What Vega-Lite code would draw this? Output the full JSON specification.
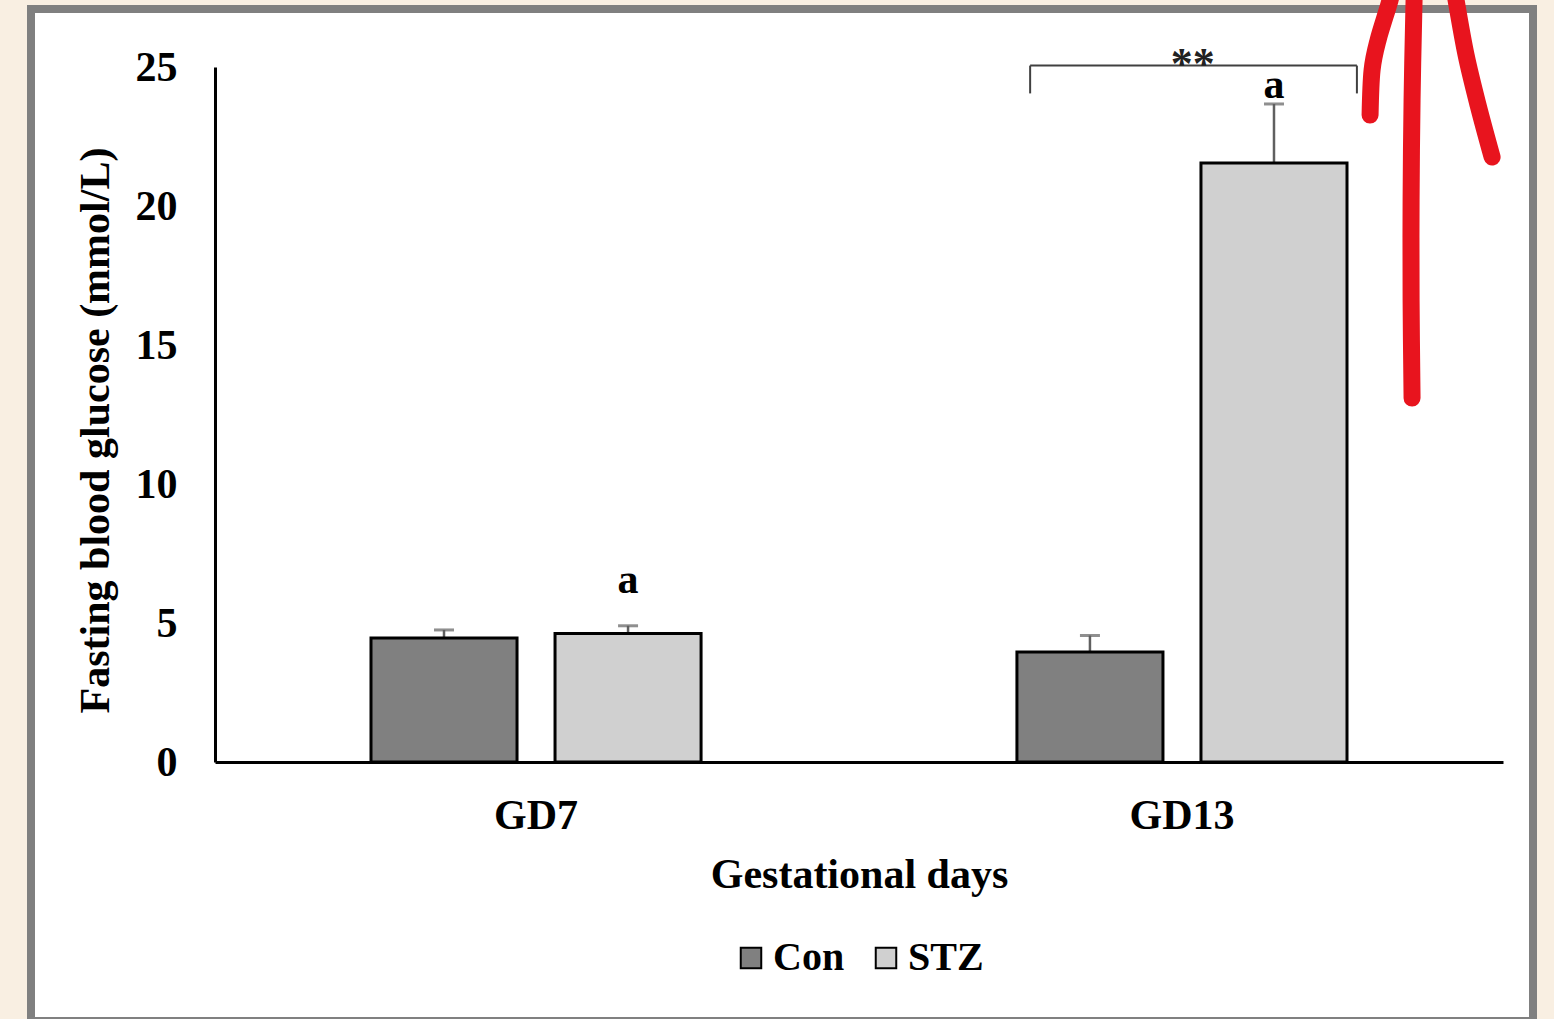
{
  "$schema": "https://vega.github.io/schema/vega-lite/v6.json",
  "autosize": {"type": "none"},
  "width": 1502,
  "height": 1012,
  "padding": {"left": 31, "top": 9, "right": 21, "bottom": 0},
  "background": "#f9efe2",
  "config": {
    "view": {"fill": "white", "stroke": "#808080", "strokeWidth": 8},
    "font": "Liberation Serif"
  },
  "datasets": {
    "glucose": [
      {"day": "GD7", "group": "Con", "mean": 4.46, "upper": 4.75, "sig": ""},
      {"day": "GD7", "group": "STZ", "mean": 4.62, "upper": 4.9, "sig": "a"},
      {"day": "GD13", "group": "Con", "mean": 3.96, "upper": 4.55, "sig": ""},
      {"day": "GD13", "group": "STZ", "mean": 21.55, "upper": 23.67, "sig": "a"}
    ],
    "scribble": [
      {"stroke": "L", "seq": 0, "gx": 2.2918, "v": 23.27},
      {"stroke": "L", "seq": 1, "gx": 2.2949, "v": 24.89},
      {"stroke": "L", "seq": 2, "gx": 2.3042, "v": 25.97},
      {"stroke": "L", "seq": 3, "gx": 2.3228, "v": 27.41},
      {"stroke": "L", "seq": 4, "gx": 2.329, "v": 28.13},
      {"stroke": "M", "seq": 0, "gx": 2.3568, "v": 13.09},
      {"stroke": "M", "seq": 1, "gx": 2.3553, "v": 16.62},
      {"stroke": "M", "seq": 2, "gx": 2.3553, "v": 20.22},
      {"stroke": "M", "seq": 3, "gx": 2.3568, "v": 23.81},
      {"stroke": "M", "seq": 4, "gx": 2.3599, "v": 27.41},
      {"stroke": "M", "seq": 5, "gx": 2.3615, "v": 28.13},
      {"stroke": "R", "seq": 0, "gx": 2.4807, "v": 21.76},
      {"stroke": "R", "seq": 1, "gx": 2.459, "v": 23.63},
      {"stroke": "R", "seq": 2, "gx": 2.4404, "v": 25.43},
      {"stroke": "R", "seq": 3, "gx": 2.4249, "v": 27.41},
      {"stroke": "R", "seq": 4, "gx": 2.4203, "v": 28.13}
    ]
  },
  "layer": [
    {
      "data": {"name": "glucose"},
      "encoding": {
        "x": {
          "field": "day",
          "type": "nominal",
          "sort": ["GD7", "GD13"],
          "scale": {"domain": ["GD7", "GD13"], "range": [184, 1472], "paddingInner": 0.489, "paddingOuter": 0.2415},
          "axis": {
            "title": "Gestational days",
            "labelAngle": 0,
            "ticks": false,
            "tickSize": 0,
            "grid": false,
            "domainColor": "black",
            "domainWidth": 3,
            "offset": -259,
            "labelFont": "Liberation Serif",
            "labelFontWeight": "bold",
            "labelFontSize": 42,
            "labelColor": "black",
            "labelPadding": 33,
            "titleFont": "Liberation Serif",
            "titleFontWeight": "bold",
            "titleFontSize": 42,
            "titleColor": "black",
            "titlePadding": 18
          }
        },
        "y": {
          "field": "mean",
          "type": "quantitative",
          "scale": {"domain": [0, 25], "range": [753, 58], "nice": false, "zero": true},
          "axis": {
            "title": "Fasting blood glucose (mmol/L)",
            "values": [0, 5, 10, 15, 20, 25],
            "ticks": false,
            "tickSize": 0,
            "grid": false,
            "domainColor": "black",
            "domainWidth": 3,
            "offset": -184,
            "labelFont": "Liberation Serif",
            "labelFontWeight": "bold",
            "labelFontSize": 42,
            "labelColor": "black",
            "labelPadding": 38,
            "titleFont": "Liberation Serif",
            "titleFontWeight": "bold",
            "titleFontSize": 42,
            "titleColor": "black",
            "titlePadding": 18,
            "titleY": 421
          }
        }
      },
      "layer": [
        {
          "mark": {"type": "rule", "color": "#606060", "strokeWidth": 2.5},
          "encoding": {
            "xOffset": {"field": "group", "type": "nominal", "scale": {"domain": ["Con", "STZ"], "paddingInner": 0.2065, "paddingOuter": 0}},
            "y2": {"field": "upper"}
          }
        },
        {
          "mark": {"type": "tick", "color": "#606060", "size": 20, "thickness": 3},
          "encoding": {
            "xOffset": {"field": "group", "type": "nominal"},
            "y": {"field": "upper", "type": "quantitative"}
          }
        },
        {
          "mark": {"type": "bar", "stroke": "black", "strokeWidth": 3},
          "encoding": {
            "xOffset": {"field": "group", "type": "nominal"},
            "fill": {
              "field": "group",
              "type": "nominal",
              "scale": {"domain": ["Con", "STZ"], "range": ["#808080", "#d0d0d0"]},
              "legend": {
                "title": null,
                "orient": "none",
                "legendX": 700,
                "legendY": 929,
                "direction": "horizontal",
                "symbolType": "square",
                "symbolSize": 420,
                "symbolStrokeColor": "black",
                "symbolStrokeWidth": 2,
                "symbolOpacity": 1,
                "labelFont": "Liberation Serif",
                "labelFontWeight": "bold",
                "labelFontSize": 40,
                "labelColor": "black",
                "labelOffset": 2,
                "columnPadding": 21
              }
            }
          }
        },
        {
          "transform": [{"filter": "datum.day === 'GD7' && datum.sig !== ''"}],
          "mark": {"type": "text", "fontSize": 42, "fontWeight": "bold", "baseline": "alphabetic", "dy": -33, "color": "black"},
          "encoding": {
            "xOffset": {"field": "group", "type": "nominal"},
            "y": {"field": "upper", "type": "quantitative"},
            "text": {"field": "sig"}
          }
        },
        {
          "transform": [{"filter": "datum.day === 'GD13' && datum.sig !== ''"}],
          "mark": {"type": "text", "fontSize": 42, "fontWeight": "bold", "baseline": "alphabetic", "dy": -6, "color": "black"},
          "encoding": {
            "xOffset": {"field": "group", "type": "nominal"},
            "y": {"field": "upper", "type": "quantitative"},
            "text": {"field": "sig"}
          }
        },
        {
          "transform": [{"filter": "datum.day === 'GD13' && datum.group === 'STZ'"}],
          "mark": {"type": "rule", "color": "#404040", "strokeWidth": 2},
          "encoding": {
            "x": {"field": "day", "type": "nominal", "bandPosition": 0.04},
            "x2": {"field": "day", "bandPosition": 1.03},
            "y": {"datum": 25.05}
          }
        },
        {
          "transform": [{"filter": "datum.day === 'GD13' && datum.group === 'STZ'"}],
          "mark": {"type": "rule", "color": "#404040", "strokeWidth": 2},
          "encoding": {
            "x": {"field": "day", "type": "nominal", "bandPosition": 0.04},
            "y": {"datum": 24.05},
            "y2": {"datum": 25.05}
          }
        },
        {
          "transform": [{"filter": "datum.day === 'GD13' && datum.group === 'STZ'"}],
          "mark": {"type": "rule", "color": "#404040", "strokeWidth": 2},
          "encoding": {
            "x": {"field": "day", "type": "nominal", "bandPosition": 1.03},
            "y": {"datum": 24.05},
            "y2": {"datum": 25.05}
          }
        },
        {
          "transform": [{"filter": "datum.day === 'GD13' && datum.group === 'STZ'"}],
          "mark": {"type": "text", "text": "**", "fontSize": 44, "fontWeight": "bold", "baseline": "alphabetic", "dy": 12, "color": "#222222"},
          "encoding": {
            "x": {"field": "day", "type": "nominal", "bandPosition": 0.533},
            "y": {"datum": 25.05}
          }
        }
      ]
    },
    {
      "data": {"name": "scribble"},
      "mark": {"type": "line", "color": "#e8141e", "strokeWidth": 17, "strokeCap": "round", "strokeJoin": "round", "interpolate": "cardinal"},
      "encoding": {
        "x": {"field": "gx", "type": "quantitative", "scale": {"domain": [0.219, 2.544], "nice": false, "zero": false}, "axis": null},
        "y": {"field": "v", "type": "quantitative", "scale": {"domain": [0, 25], "range": [753, 58], "nice": false, "zero": false}, "axis": null},
        "detail": {"field": "stroke", "type": "nominal"},
        "order": {"field": "seq", "type": "quantitative"}
      }
    }
  ],
  "resolve": {"scale": {"x": "independent", "y": "independent"}, "axis": {"x": "independent", "y": "independent"}}
}
